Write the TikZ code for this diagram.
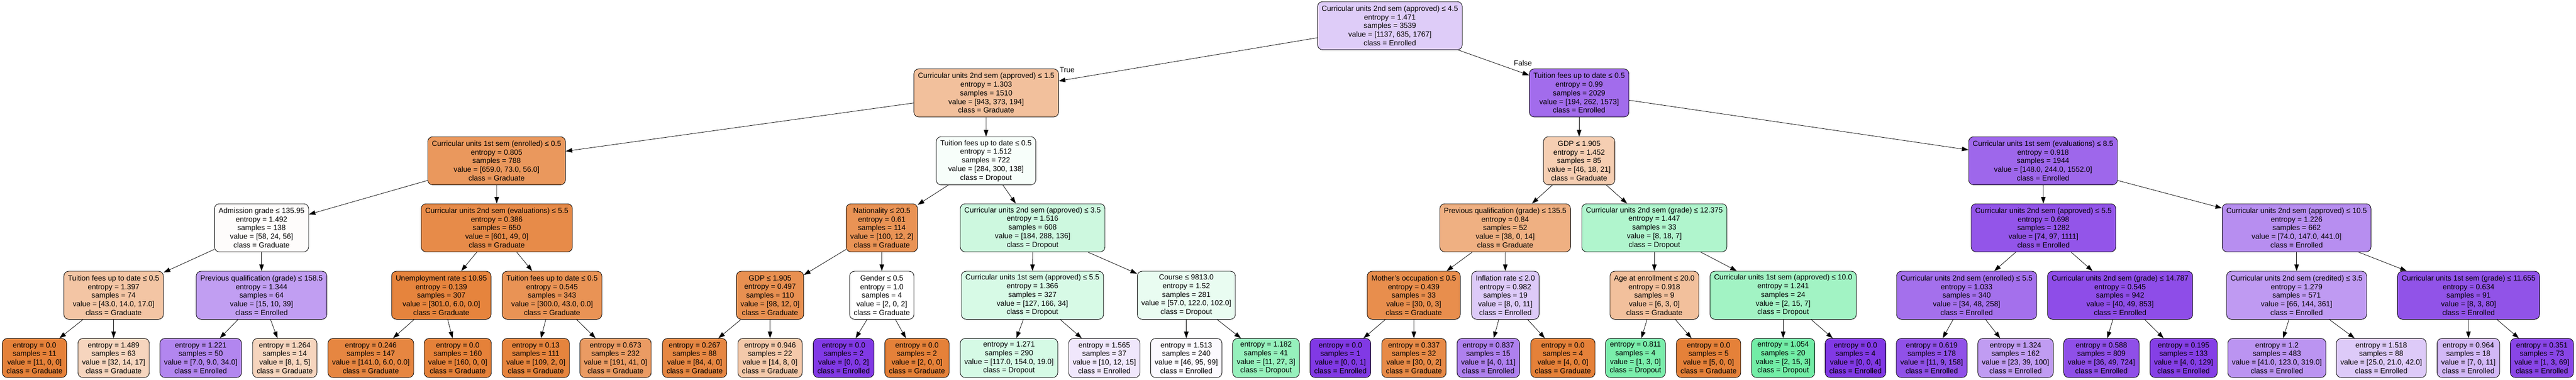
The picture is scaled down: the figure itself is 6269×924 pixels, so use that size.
\documentclass[tikz,border=0pt]{standalone}
\usepackage{fontspec}
\setmainfont{Liberation Sans}
\usetikzlibrary{arrows.meta}
\definecolor{cG}{RGB}{229,129,57}
\definecolor{cD}{RGB}{57,229,129}
\definecolor{cE}{RGB}{129,57,229}
\tikzset{
  nd/.style={draw=black, line width=1.1pt, rounded corners=12pt, align=center,
    inner xsep=10pt, inner ysep=0pt, minimum height=117pt,
    font=\fontsize{18}{21}\selectfont},
  lf/.style={nd, minimum height=95pt},
  conn/.style={-{Triangle[length=16pt,width=11pt]}, line width=1pt},
  elab/.style={font=\fontsize{18}{21}\selectfont, inner sep=0pt}
}
\begin{document}
\begin{tikzpicture}[x=1pt,y=-1pt]
\useasboundingbox (0,0) rectangle (6269,924);
% row 0
\node[nd, fill=cE!26!white] (r) at (3382.5,62.5) {Curricular units 2nd sem (approved) ≤ 4.5\\entropy = 1.471\\samples = 3539\\value = [1137, 635, 1767]\\class = Enrolled};
% row 1
\node[nd, fill=cG!50!white] (a) at (2400,226) {Curricular units 2nd sem (approved) ≤ 1.5\\entropy = 1.303\\samples = 1510\\value = [943, 373, 194]\\class = Graduate};
\node[nd, fill=cE!74!white] (b) at (3843,226) {Tuition fees up to date ≤ 0.5\\entropy = 0.99\\samples = 2029\\value = [194, 262, 1573]\\class = Enrolled};
% row 2
\node[nd, fill=cG!82!white] (aa) at (1208.5,391) {Curricular units 1st sem (enrolled) ≤ 0.5\\entropy = 0.805\\samples = 788\\value = [659.0, 73.0, 56.0]\\class = Graduate};
\node[nd, fill=cD!4!white] (ab) at (2399.5,391) {Tuition fees up to date ≤ 0.5\\entropy = 1.512\\samples = 722\\value = [284, 300, 138]\\class = Dropout};
\node[nd, fill=cG!39!white] (ba) at (3843,391) {GDP ≤ 1.905\\entropy = 1.452\\samples = 85\\value = [46, 18, 21]\\class = Graduate};
\node[nd, fill=cE!77!white] (bb) at (4972,391) {Curricular units 1st sem (evaluations) ≤ 8.5\\entropy = 0.918\\samples = 1944\\value = [148.0, 244.0, 1552.0]\\class = Enrolled};
% row 3
\node[nd, fill=cG!2!white] (aaa) at (636.5,554) {Admission grade ≤ 135.95\\entropy = 1.492\\samples = 138\\value = [58, 24, 56]\\class = Graduate};
\node[nd, fill=cG!92!white] (aab) at (1209,554) {Curricular units 2nd sem (evaluations) ≤ 5.5\\entropy = 0.386\\samples = 650\\value = [601, 49, 0]\\class = Graduate};
\node[nd, fill=cG!86!white] (aba) at (2146,554) {Nationality ≤ 20.5\\entropy = 0.61\\samples = 114\\value = [100, 12, 2]\\class = Graduate};
\node[nd, fill=cD!25!white] (abb) at (2513,554) {Curricular units 2nd sem (approved) ≤ 3.5\\entropy = 1.516\\samples = 608\\value = [184, 288, 136]\\class = Dropout};
\node[nd, fill=cG!63!white] (baa) at (3663,554) {Previous qualification (grade) ≤ 135.5\\entropy = 0.84\\samples = 52\\value = [38, 0, 14]\\class = Graduate};
\node[nd, fill=cD!40!white] (bab) at (4026,554) {Curricular units 2nd sem (grade) ≤ 12.375\\entropy = 1.447\\samples = 33\\value = [8, 18, 7]\\class = Dropout};
\node[nd, fill=cE!86!white] (bba) at (4973,554) {Curricular units 2nd sem (approved) ≤ 5.5\\entropy = 0.698\\samples = 1282\\value = [74, 97, 1111]\\class = Enrolled};
\node[nd, fill=cE!57!white] (bbb) at (5589,554) {Curricular units 2nd sem (approved) ≤ 10.5\\entropy = 1.226\\samples = 662\\value = [74.0, 147.0, 441.0]\\class = Enrolled};
% row 4
\node[nd, fill=cG!46!white] (aaaa) at (276.5,718) {Tuition fees up to date ≤ 0.5\\entropy = 1.397\\samples = 74\\value = [43.0, 14.0, 17.0]\\class = Graduate};
\node[nd, fill=cE!49!white] (aaab) at (636.5,718) {Previous qualification (grade) ≤ 158.5\\entropy = 1.344\\samples = 64\\value = [15, 10, 39]\\class = Enrolled};
\node[nd, fill=cG!98!white] (aaba) at (1074,718) {Unemployment rate ≤ 10.95\\entropy = 0.139\\samples = 307\\value = [301.0, 6.0, 0.0]\\class = Graduate};
\node[nd, fill=cG!86!white] (aabb) at (1343.5,718) {Tuition fees up to date ≤ 0.5\\entropy = 0.545\\samples = 343\\value = [300.0, 43.0, 0.0]\\class = Graduate};
\node[nd, fill=cG!88!white] (abaa) at (1874,718) {GDP ≤ 1.905\\entropy = 0.497\\samples = 110\\value = [98, 12, 0]\\class = Graduate};
\node[nd, fill=white] (abab) at (2146,718) {Gender ≤ 0.5\\entropy = 1.0\\samples = 4\\value = [2, 0, 2]\\class = Graduate};
\node[nd, fill=cD!20!white] (abba) at (2512.5,718) {Curricular units 1st sem (approved) ≤ 5.5\\entropy = 1.366\\samples = 327\\value = [127, 166, 34]\\class = Dropout};
\node[nd, fill=cD!11!white] (abbb) at (2887,718) {Course ≤ 9813.0\\entropy = 1.52\\samples = 281\\value = [57.0, 122.0, 102.0]\\class = Dropout};
\node[nd, fill=cG!90!white] (baaa) at (3440.5,718) {Mother's occupation ≤ 0.5\\entropy = 0.439\\samples = 33\\value = [30, 0, 3]\\class = Graduate};
\node[nd, fill=cE!27!white] (baab) at (3663.5,718) {Inflation rate ≤ 2.0\\entropy = 0.982\\samples = 19\\value = [8, 0, 11]\\class = Enrolled};
\node[nd, fill=cG!50!white] (baba) at (4026,718) {Age at enrollment ≤ 20.0\\entropy = 0.918\\samples = 9\\value = [6, 3, 0]\\class = Graduate};
\node[nd, fill=cD!47!white] (babb) at (4339.5,718) {Curricular units 1st sem (approved) ≤ 10.0\\entropy = 1.241\\samples = 24\\value = [2, 15, 7]\\class = Dropout};
\node[nd, fill=cE!72!white] (bbaa) at (4786,718) {Curricular units 2nd sem (enrolled) ≤ 5.5\\entropy = 1.033\\samples = 340\\value = [34, 48, 258]\\class = Enrolled};
\node[nd, fill=cE!90!white] (bbab) at (5159.5,718) {Curricular units 2nd sem (grade) ≤ 14.787\\entropy = 0.545\\samples = 942\\value = [40, 49, 853]\\class = Enrolled};
\node[nd, fill=cE!51!white] (bbba) at (5589,718) {Curricular units 2nd sem (credited) ≤ 3.5\\entropy = 1.279\\samples = 571\\value = [66, 144, 361]\\class = Enrolled};
\node[nd, fill=cE!87!white] (bbbb) at (6007.5,718) {Curricular units 1st sem (grade) ≤ 11.655\\entropy = 0.634\\samples = 91\\value = [8, 3, 80]\\class = Enrolled};
% row 5 (leaves)
\node[lf, fill=cG] (l1) at (84,870.5) {entropy = 0.0\\samples = 11\\value = [11, 0, 0]\\class = Graduate};
\node[lf, fill=cG!33!white] (l2) at (276.5,870.5) {entropy = 1.489\\samples = 63\\value = [32, 14, 17]\\class = Graduate};
\node[lf, fill=cE!61!white] (l3) at (488.5,870.5) {entropy = 1.221\\samples = 50\\value = [7.0, 9.0, 34.0]\\class = Enrolled};
\node[lf, fill=cG!33!white] (l4) at (693,870.5) {entropy = 1.264\\samples = 14\\value = [8, 1, 5]\\class = Graduate};
\node[lf, fill=cG!96!white] (l5) at (902.5,870.5) {entropy = 0.246\\samples = 147\\value = [141.0, 6.0, 0.0]\\class = Graduate};
\node[lf, fill=cG] (l6) at (1114,870.5) {entropy = 0.0\\samples = 160\\value = [160, 0, 0]\\class = Graduate};
\node[lf, fill=cG!98!white] (l7) at (1304,870.5) {entropy = 0.13\\samples = 111\\value = [109, 2, 0]\\class = Graduate};
\node[lf, fill=cG!79!white] (l8) at (1498,870.5) {entropy = 0.673\\samples = 232\\value = [191, 41, 0]\\class = Graduate};
\node[lf, fill=cG!95!white] (l9) at (1690.5,870.5) {entropy = 0.267\\samples = 88\\value = [84, 4, 0]\\class = Graduate};
\node[lf, fill=cG!43!white] (l10) at (1874,870.5) {entropy = 0.946\\samples = 22\\value = [14, 8, 0]\\class = Graduate};
\node[lf, fill=cE] (l11) at (2053,870.5) {entropy = 0.0\\samples = 2\\value = [0, 0, 2]\\class = Enrolled};
\node[lf, fill=cG] (l12) at (2231.5,870.5) {entropy = 0.0\\samples = 2\\value = [2, 0, 0]\\class = Graduate};
\node[lf, fill=cD!21!white] (l13) at (2455.5,870.5) {entropy = 1.271\\samples = 290\\value = [117.0, 154.0, 19.0]\\class = Dropout};
\node[lf, fill=cE!12!white] (l14) at (2687.5,870.5) {entropy = 1.565\\samples = 37\\value = [10, 12, 15]\\class = Enrolled};
\node[lf, fill=cE!3!white] (l15) at (2887,870.5) {entropy = 1.513\\samples = 240\\value = [46, 95, 99]\\class = Enrolled};
\node[lf, fill=cD!53!white] (l16) at (3081,870.5) {entropy = 1.182\\samples = 41\\value = [11, 27, 3]\\class = Dropout};
\node[lf, fill=cE] (l17) at (3262,870.5) {entropy = 0.0\\samples = 1\\value = [0, 0, 1]\\class = Enrolled};
\node[lf, fill=cG!93!white] (l18) at (3441,870.5) {entropy = 0.337\\samples = 32\\value = [30, 0, 2]\\class = Graduate};
\node[lf, fill=cE!64!white] (l19) at (3622,870.5) {entropy = 0.837\\samples = 15\\value = [4, 0, 11]\\class = Enrolled};
\node[lf, fill=cG] (l20) at (3803.5,870.5) {entropy = 0.0\\samples = 4\\value = [4, 0, 0]\\class = Graduate};
\node[lf, fill=cD!67!white] (l21) at (3980,870.5) {entropy = 0.811\\samples = 4\\value = [1, 3, 0]\\class = Dropout};
\node[lf, fill=cG] (l22) at (4158,870.5) {entropy = 0.0\\samples = 5\\value = [5, 0, 0]\\class = Graduate};
\node[lf, fill=cD!71!white] (l23) at (4339.5,870.5) {entropy = 1.054\\samples = 20\\value = [2, 15, 3]\\class = Dropout};
\node[lf, fill=cE] (l24) at (4515.5,870.5) {entropy = 0.0\\samples = 4\\value = [0, 0, 4]\\class = Enrolled};
\node[lf, fill=cE!88!white] (l25) at (4701,870.5) {entropy = 0.619\\samples = 178\\value = [11, 9, 158]\\class = Enrolled};
\node[lf, fill=cE!50!white] (l26) at (4905,870.5) {entropy = 1.324\\samples = 162\\value = [23, 39, 100]\\class = Enrolled};
\node[lf, fill=cE!89!white] (l27) at (5114,870.5) {entropy = 0.588\\samples = 809\\value = [36, 49, 724]\\class = Enrolled};
\node[lf, fill=cE!97!white] (l28) at (5314,870.5) {entropy = 0.195\\samples = 133\\value = [4, 0, 129]\\class = Enrolled};
\node[lf, fill=cE!54!white] (l29) at (5541,870.5) {entropy = 1.2\\samples = 483\\value = [41.0, 123.0, 319.0]\\class = Enrolled};
\node[lf, fill=cE!27!white] (l30) at (5795,870.5) {entropy = 1.518\\samples = 88\\value = [25.0, 21.0, 42.0]\\class = Enrolled};
\node[lf, fill=cE!36!white] (l31) at (6007,870.5) {entropy = 0.964\\samples = 18\\value = [7, 0, 11]\\class = Enrolled};
\node[lf, fill=cE!94!white] (l32) at (6186,870.5) {entropy = 0.351\\samples = 73\\value = [1, 3, 69]\\class = Enrolled};
% edge labels
\node[elab] (tl) at (2597,170) {True};
\node[elab] (fl) at (3706,153) {False};
% connectors
\foreach \p/\c in {r/a, r/b, a/aa, a/ab, b/ba, b/bb,
  aa/aaa, aa/aab, ab/aba, ab/abb, ba/baa, ba/bab, bb/bba, bb/bbb,
  aaa/aaaa, aaa/aaab, aab/aaba, aab/aabb, aba/abaa, aba/abab, abb/abba, abb/abbb,
  baa/baaa, baa/baab, bab/baba, bab/babb, bba/bbaa, bba/bbab, bbb/bbba, bbb/bbbb,
  aaaa/l1, aaaa/l2, aaab/l3, aaab/l4, aaba/l5, aaba/l6, aabb/l7, aabb/l8,
  abaa/l9, abaa/l10, abab/l11, abab/l12, abba/l13, abba/l14, abbb/l15, abbb/l16,
  baaa/l17, baaa/l18, baab/l19, baab/l20, baba/l21, baba/l22, babb/l23, babb/l24,
  bbaa/l25, bbaa/l26, bbab/l27, bbab/l28, bbba/l29, bbba/l30, bbbb/l31, bbbb/l32}
  \draw[conn] (\p) -- (\c);
\end{tikzpicture}
\end{document}
